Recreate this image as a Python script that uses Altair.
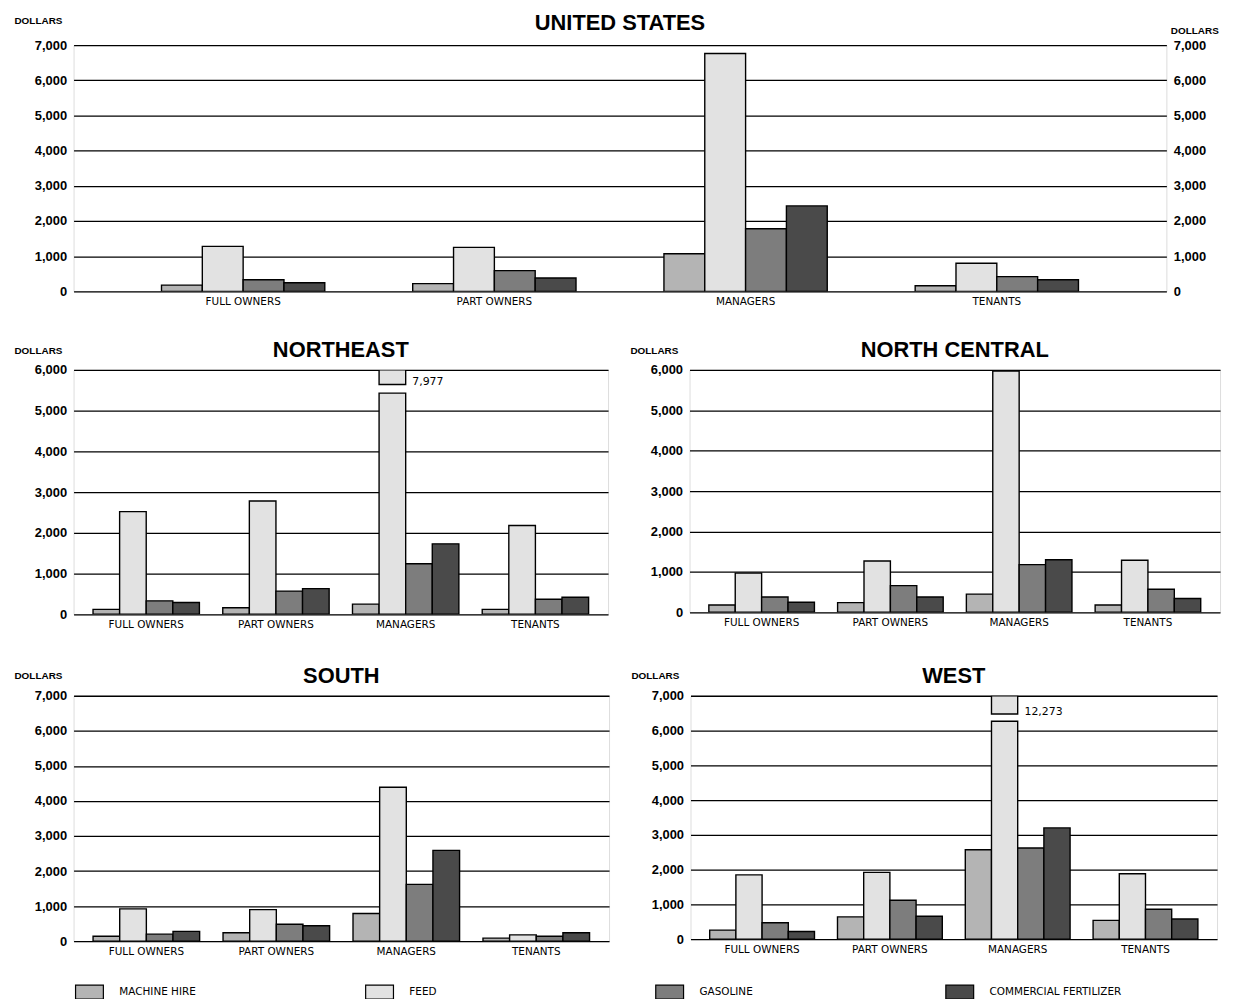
import altair as alt
import pandas as pd

owners = ["FULL OWNERS", "PART OWNERS", "MANAGERS", "TENANTS"]
expenses = ["MACHINE HIRE", "FEED", "GASOLINE", "COMMERCIAL FERTILIZER"]
greys = ["#b4b4b4", "#e2e2e2", "#7d7d7d", "#4a4a4a"]

# values in owner order: full owners, part owners, managers, tenants
us_machine = [180, 220, 1070, 160]
us_feed = [1280, 1250, 6760, 800]
us_gas = [330, 590, 1780, 420]
us_fert = [245, 380, 2430, 330]

ne_machine = [120, 160, 250, 120]
ne_feed = [2520, 2780, 7977, 2180]
ne_gas = [330, 570, 1240, 370]
ne_fert = [290, 630, 1730, 420]

nc_machine = [180, 240, 450, 180]
nc_feed = [970, 1270, 5970, 1290]
nc_gas = [380, 660, 1180, 570]
nc_fert = [250, 380, 1300, 340]

so_machine = [140, 240, 790, 85]
so_feed = [920, 900, 4390, 180]
so_gas = [200, 480, 1620, 140]
so_fert = [280, 440, 2590, 240]

we_machine = [260, 640, 2570, 540]
we_feed = [1850, 1920, 12273, 1880]
we_gas = [470, 1120, 2620, 860]
we_fert = [220, 660, 3200, 580]

regions = {
    "UNITED STATES": [us_machine, us_feed, us_gas, us_fert],
    "NORTHEAST": [ne_machine, ne_feed, ne_gas, ne_fert],
    "NORTH CENTRAL": [nc_machine, nc_feed, nc_gas, nc_fert],
    "SOUTH": [so_machine, so_feed, so_gas, so_fert],
    "WEST": [we_machine, we_feed, we_gas, we_fert],
}
axis_max = {"UNITED STATES": 7000, "NORTHEAST": 6000, "NORTH CENTRAL": 6000,
            "SOUTH": 7000, "WEST": 7000}
# scale-break placement, as fractions of the axis maximum (lower piece top, upper piece bottom, label)
break_frac = {"NORTHEAST": (0.905, 0.94, 0.952), "WEST": (0.895, 0.925, 0.932)}

FONT = "Liberation Sans"
SMALL = "DejaVu Sans"


def build(region):
    ymax = axis_max[region]
    segs, labels = [], []
    for j, exp in enumerate(expenses):
        for i, own in enumerate(owners):
            v = regions[region][j][i]
            if v > ymax:
                lo, hi, lab = break_frac[region]
                segs.append(dict(owner=own, expense=exp, y0=0, y1=lo * ymax, value=v))
                segs.append(dict(owner=own, expense=exp, y0=hi * ymax, y1=ymax, value=v))
                labels.append(dict(owner=own, expense=exp, ly=lab * ymax, label=f"{v:,}"))
            else:
                segs.append(dict(owner=own, expense=exp, y0=0, y1=v, value=v))
    return pd.DataFrame(segs), pd.DataFrame(labels)


legend = alt.Legend(title=None, orient="none", legendX=1, legendY=938,
                    direction="horizontal", columns=4, columnPadding=112,
                    gridAlign="all", symbolType="M-1,-0.5L1,-0.5L1,0.5L-1,0.5Z",
                    symbolSize=784, symbolStrokeColor="black", symbolStrokeWidth=1.2,
                    symbolOpacity=1, labelFontSize=10.5, labelFont=SMALL,
                    labelColor="black", labelLimit=300, labelOffset=15)


def y_axis(ticks, title_y, orient="left", grid=True, title_x=-60):
    return alt.Axis(orient=orient, title="DOLLARS", values=ticks, format=",d", grid=grid,
                    gridColor="black", gridWidth=1.3, gridOpacity=1,
                    labelOverlap=False, ticks=False, domain=False, labelPadding=7,
                    labelFontSize=13, labelFontWeight="bold", labelColor="black",
                    titleAngle=0, titleAlign="left", titleBaseline="bottom",
                    titleX=title_x, titleY=title_y, titleFontSize=10,
                    titleFontWeight="bold", titleColor="black")


def panel(region, width, height, pad_in, pad_out, right_axis=False, title_y=-15,
          title_offset=-17):
    ymax = axis_max[region]
    segs, labels = build(region)
    x = alt.X("owner:N", sort=owners,
              scale=alt.Scale(paddingInner=pad_in, paddingOuter=pad_out),
              axis=alt.Axis(title=None, labelAngle=0, ticks=False, domain=False,
                            labelPadding=5, labelFontSize=10.5, labelColor="black",
                            labelFont=SMALL))
    xo = alt.XOffset("expense:N", sort=expenses,
                     scale=alt.Scale(paddingInner=0, paddingOuter=0))
    yscale = alt.Scale(domain=[0, ymax], nice=False, zero=True)
    ticks = list(range(0, ymax + 1, 1000))
    ax = y_axis(ticks, title_y)
    color = alt.Color("expense:N", sort=expenses,
                      scale=alt.Scale(domain=expenses, range=greys),
                      legend=legend)
    bars = alt.Chart(segs).mark_bar(stroke="black", strokeWidth=1.4, clip=True).encode(
        x=x, xOffset=xo, y=alt.Y("y0:Q", scale=yscale, axis=ax), y2="y1:Q", color=color)
    layers = [bars]
    if len(labels):
        txt = alt.Chart(labels).mark_text(align="left", baseline="middle", dx=20,
                                          fontSize=11, font=SMALL, color="black").encode(
            x=x, xOffset=xo,
            y=alt.Y("ly:Q", scale=yscale, axis=ax), text="label:N")
        layers.append(txt)
    if right_axis:
        ra = alt.Chart(segs).mark_bar(opacity=0).encode(
            x=x, xOffset=xo,
            y=alt.Y("y1:Q", scale=yscale,
                    axis=y_axis(ticks, -10, orient="right", grid=False, title_x=4)))
        layers.append(ra)
    ch = alt.layer(*layers).properties(
        width=width, height=height,
        title=alt.TitleParams(region, fontSize=22, font=FONT, fontWeight="bold",
                              anchor="middle", offset=title_offset, color="black"))
    if right_axis:
        ch = ch.resolve_scale(y="shared").resolve_axis(y="independent")
    return ch


us = panel("UNITED STATES", 1100, 248, 0.35, 0.35, right_axis=True, title_y=-20,
           title_offset=-20)
ne = panel("NORTHEAST", 538, 246, 0.18, 0.15)
nc = panel("NORTH CENTRAL", 534, 244, 0.18, 0.15)
so = panel("SOUTH", 539, 247, 0.18, 0.15)
we = panel("WEST", 530, 245, 0.18, 0.15)

row2 = alt.hconcat(ne, nc, spacing=20).resolve_scale(xOffset="independent", y="independent")
row3 = alt.hconcat(so, we, spacing=20).resolve_scale(xOffset="independent", y="independent")

top = alt.vconcat(us, row2, spacing=31).resolve_scale(xOffset="independent", y="independent")

chart = alt.vconcat(top, row3, spacing=34).resolve_scale(
    xOffset="independent", y="independent"
).properties(
    padding={"top": 0, "left": 5, "right": 5, "bottom": 0}
).configure_view(
    stroke="black", strokeWidth=1.5
).configure(background="white", font=FONT)

chart.save("out.html", embed_options={"renderer": "svg", "actions": False})
